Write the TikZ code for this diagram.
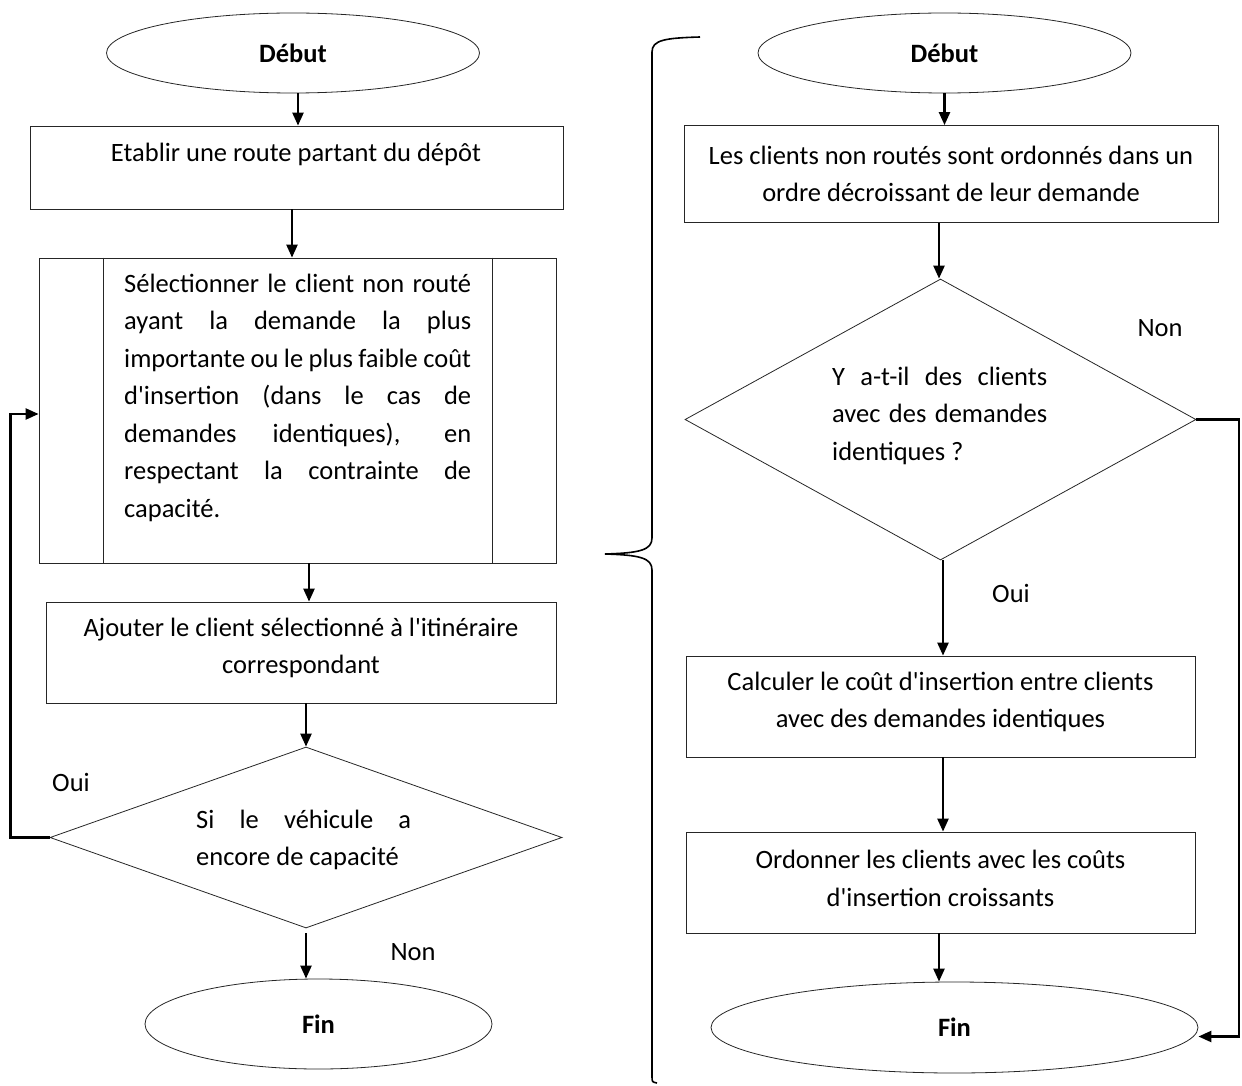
\documentclass[tikz,border=0pt]{standalone}
\usepackage{fontspec}
\newfontfamily\carl{Carlito}
\usetikzlibrary{shapes.geometric,arrows.meta}
\tikzset{
  every node/.style={font=\carl\fontsize{26.5}{37.5}\selectfont, inner sep=0pt},
  box/.style={draw=black!85, line width=0.8pt, rectangle},
  boxline/.style={draw=black!85, line width=0.8pt},
  ell/.style={draw=black!85, line width=0.8pt, ellipse},
  dia/.style={draw=black!85, line width=0.8pt, diamond},
  arr/.style={line width=2.4pt, -{Triangle[length=13pt,width=11pt]}},
  brace/.style={line width=1.6pt},
  lbl/.style={}
}
\begin{document}
\begin{tikzpicture}[x=1pt,y=-1pt]
\useasboundingbox (0,0) rectangle (1242,1086);

% ---------------- left column ----------------
\node[ell, minimum width=373pt, minimum height=80pt] (ds1) at (293,53) {\textbf{Début}};
\node[box, minimum width=533pt, minimum height=83pt] (e1) at (296.5,167.5) {};
\node (e1t) at (296,154) {Etablir une route partant du dépôt};

\node[box, minimum width=517pt, minimum height=305pt] (s1) at (297.5,410.5) {};
\draw[boxline] ([xshift=65pt]s1.north west) -- ([xshift=65pt]s1.south west);
\draw[boxline] ([xshift=-64pt]s1.north east) -- ([xshift=-64pt]s1.south east);
\node[anchor=base west, align=left] (s1t) at (124,517) {%
\makebox[347pt][s]{Sélectionner le client non routé}\\
\makebox[347pt][s]{ayant la demande la plus}\\
\makebox[347pt][s]{importante ou le plus faible coût}\\
\makebox[347pt][s]{d'insertion (dans le cas de}\\
\makebox[347pt][s]{demandes identiques), en}\\
\makebox[347pt][s]{respectant la contrainte de}\\
capacité.};

\node[box, minimum width=510pt, minimum height=101pt] (a1) at (301,652.5) {};
\node[align=center] (a1t) at (301,648) {Ajouter le client sélectionné à l'itinéraire\\correspondant};

\node[dia, minimum width=512pt, minimum height=181pt] (q1) at (306,837.5) {};
\node[anchor=base west, align=left] (q1t) at (196,865.5) {%
\makebox[215pt][s]{Si le véhicule a}\\
encore de capacité};

\node[ell, minimum width=347pt, minimum height=90pt] (f1) at (318.5,1024) {\textbf{Fin}};

\node[lbl] (oui1) at (71,782) {Oui};
\node[lbl] (non1) at (413,952) {Non};

\draw[arr] ([xshift=5pt]ds1.south) -- ([xshift=5pt]ds1.south |- e1.north);
\draw[arr] ([xshift=-4.5pt]e1.south) -- ([xshift=-4.5pt]e1.south |- s1.north);
\draw[arr] ([xshift=11.5pt]s1.south) -- ([xshift=11.5pt]s1.south |- a1.north);
\draw[arr] ([xshift=5pt]a1.south) -- (q1.north);
\draw[arr] ([yshift=-5pt]q1.south) -- (q1.south |- f1.north);
\draw[arr] (q1.west) -- ++(-39,0) |- ([yshift=-3.5pt]s1.west);

% ---------------- brace ----------------
\draw[brace] (700,37) .. controls (665,38) and (652,40) .. (652,52)
  -- (652,538) .. controls (652,550) and (640,553) .. (605,554)
  .. controls (640,555) and (652,558) .. (652,570)
  -- (652,1076) .. controls (652,1082) .. (657,1083);

% ---------------- right column ----------------
\node[ell, minimum width=373pt, minimum height=80pt] (ds2) at (944.5,53) {\textbf{Début}};
\node[box, minimum width=534pt, minimum height=97pt] (r1) at (951,174) {};
\node[align=center] (r1t) at (951,174) {Les clients non routés sont ordonnés dans un\\ordre décroissant de leur demande};

\node[dia, minimum width=511pt, minimum height=281pt] (q2) at (940.5,419.5) {};
\node[anchor=base west, align=left] (q2t) at (832,460) {%
\makebox[215pt][s]{Y a-t-il des clients}\\
\makebox[215pt][s]{avec des demandes}\\
identiques ?};

\node[box, minimum width=509pt, minimum height=101pt] (r2) at (940.5,706.5) {};
\node[align=center] (r2t) at (940.5,702) {Calculer le coût d'insertion entre clients\\avec des demandes identiques};

\node[box, minimum width=509pt, minimum height=101pt] (r3) at (940.5,882.5) {};
\node[align=center] (r3t) at (940.5,878.5) {Ordonner les clients avec les coûts\\d'insertion croissants};

\node[ell, minimum width=487pt, minimum height=91pt] (f2) at (954.5,1027.5) {\textbf{Fin}};

\node[lbl] (non2) at (1160,328) {Non};
\node[lbl] (oui2) at (1011,593) {Oui};

\coordinate (rt) at (1239,420);
\draw[arr] (ds2.south) -- (ds2.south |- r1.north);
\draw[arr] ([xshift=-12pt]r1.south) -- ([xshift=-12pt]r1.south |- q2.north);
\draw[arr] ([xshift=2.5pt]q2.south) -- ([xshift=2.5pt]q2.south |- r2.north);
\draw[arr] ([xshift=2.5pt]r2.south) -- ([xshift=2.5pt]r2.south |- r3.north);
\draw[arr] ([xshift=-1.5pt]r3.south) -- ([xshift=-1.5pt]r3.south |- f2.north);
\draw[arr] (q2.east) -- (q2.east -| rt) |- ([yshift=-9pt]f2.east);
\end{tikzpicture}
\end{document}
